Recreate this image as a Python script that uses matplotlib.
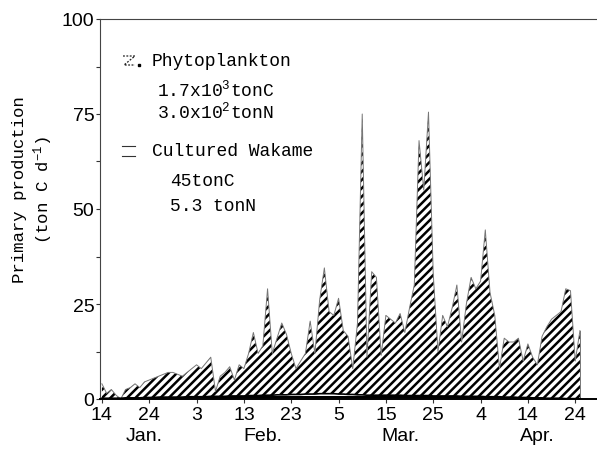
import numpy as np
import matplotlib
matplotlib.use("Agg")
import matplotlib.pyplot as plt
from matplotlib.lines import Line2D

# ── Data: daily primary production, Jan 14 (day 0) .. Apr 25 (day 101) ─────
phyto = [4, 1.5, 2.5, 1, 0, 2.5, 3, 4, 3, 4.5,
         5, 5.5, 6, 6.5, 7, 7, 6.5, 6, 7, 8,
         9, 8, 9.5, 11, 2, 6, 7, 8.5, 5, 9,
         8, 12, 17.5, 12, 14, 29, 12, 16, 20, 17,
         12, 8, 10, 12, 20.5, 12, 26, 34.5, 23, 22,
         26.5, 18, 16.5, 8, 20, 75, 11, 33.5, 32, 11.5,
         22, 21, 20, 22.5, 17.5, 24, 30, 68, 55, 75.5,
         33, 12.5, 22, 19, 24, 30, 15, 25, 32, 29,
         31, 44.5, 28, 22, 8, 16, 15, 15, 16, 10,
         14.5, 11, 9, 16.5, 19, 21, 22, 23, 29, 28.5,
         10, 18]
wakame = [0.2, 0.2, 0.2, 0.2, 0.2, 0.3, 0.3, 0.3, 0.3, 0.4,
          0.4, 0.4, 0.5, 0.5, 0.5, 0.5, 0.5, 0.5, 0.6, 0.6,
          0.6, 0.6, 0.6, 0.7, 0.7, 0.7, 0.7, 0.8, 0.8, 0.8,
          0.8, 0.9, 0.9, 0.9, 1.0, 1.0, 1.0, 1.1, 1.1, 1.1,
          1.2, 1.2, 1.2, 1.3, 1.3, 1.3, 1.4, 1.4, 1.4, 1.4,
          1.3, 1.3, 1.2, 1.2, 1.1, 1.1, 1.0, 1.0, 1.0, 1.0,
          1.0, 1.0, 1.0, 1.0, 0.9, 0.9, 0.9, 0.9, 0.9, 0.9,
          0.8, 0.8, 0.8, 0.8, 0.8, 0.8, 0.7, 0.7, 0.7, 0.7,
          0.7, 0.6, 0.6, 0.6, 0.6, 0.5, 0.5, 0.5, 0.4, 0.4,
          0.4, 0.3, 0.3, 0.3, 0.2, 0.2, 0.2, 0.2, 0.1, 0.1,
          0.1, 0.1]
days = np.arange(len(phyto))

tick_days   = [0, 10, 20, 30, 40, 50, 60, 70, 80, 90, 100]
tick_labels = ["14", "24", "3", "13", "23", "5", "15", "25", "4", "14", "24"]
month_pos   = [9, 34, 63, 92]
month_names = ["Jan.", "Feb.", "Mar.", "Apr."]

# ── Style ────────────────────────────────────────────────────────────────────
MONO = "Liberation Mono"
plt.rcParams["font.family"] = ["Liberation Sans", "DejaVu Sans"]
plt.rcParams["mathtext.fontset"] = "custom"
plt.rcParams["mathtext.rm"] = MONO
plt.rcParams["mathtext.default"] = "regular"
plt.rcParams["hatch.linewidth"] = 1.8

W, H = 597, 452
fig = plt.figure(figsize=(W / 100, H / 100), dpi=100)
fig.patch.set_facecolor("white")

def fx(px): return px / W
def fy(py): return 1 - py / H

ax = fig.add_axes([fx(100), fy(400), 1 - fx(100), fy(20) - fy(400)])
ax.set_xlim(-0.4, 104.6)
ax.set_ylim(0, 100)

ax.fill_between(days, phyto, 0, facecolor="white", edgecolor="black",
                hatch="////", linewidth=0)
ax.plot(days, phyto, color="#777777", linewidth=0.7)
ax.plot([days[-1], days[-1]], [0, phyto[-1]], color="#777777", linewidth=0.7)
ax.fill_between(days, wakame, 0, facecolor="white", edgecolor="black",
                hatch="---", linewidth=0)
ax.plot(days, wakame, color="black", linewidth=1.2)

# ── Axes ─────────────────────────────────────────────────────────────────────
ax.spines["right"].set_visible(False)
ax.spines["top"].set_color("#444444")
ax.spines["left"].set_color("#444444")
ax.spines["bottom"].set_linewidth(1.4)
ax.set_yticks([0, 25, 50, 75, 100])
ax.set_yticks([12.5, 37.5, 62.5, 87.5], minor=True)
ax.set_xticks(tick_days)
ax.set_xticklabels(tick_labels)
ax.tick_params(axis="both", which="both", length=3, width=0.8,
               labelsize=14, colors="#333333", labelcolor="black")
ax.tick_params(axis="y", pad=1)
ax.tick_params(axis="x", pad=2)

for pos, name in zip(month_pos, month_names):
    ax.text(pos, -0.097, name, transform=ax.get_xaxis_transform(),
            ha="center", va="center", fontsize=14)

fig.text(fx(20), fy(190), "Primary production", rotation=90, family=MONO,
         fontsize=12.5, ha="center", va="center")
fig.text(fx(43), fy(190), "(ton C d$^{-1}$)", rotation=90, family=MONO,
         fontsize=12.5, ha="center", va="center")

# ── Legend (manual) ──────────────────────────────────────────────────────────
# phytoplankton symbol: small dotted "Z"
fig.add_artist(Line2D([fx(123), fx(135), fx(124), fx(135)],
                      [fy(57), fy(57), fy(66), fy(66)],
                      color="#222222", linewidth=0.9, linestyle=(0, (1.5, 1.2))))
fig.add_artist(Line2D([fx(139)], [fy(65.5)], marker="s", markersize=1.6,
                      color="black", linestyle="none"))
# wakame symbol: two thin horizontal lines
for py in (147, 157):
    fig.add_artist(Line2D([fx(122), fx(135)], [fy(py), fy(py)],
                          color="#333333", linewidth=0.8))

legend_lines = [
    (152, 62, "Phytoplankton"),
    (157, 90, "1.7x10$^3$tonC"),
    (157, 112, "3.0x10$^2$tonN"),
    (152, 152, "Cultured Wakame"),
    (170, 182, "45tonC"),
    (170, 207, "5.3 tonN"),
]
for px, py, txt in legend_lines:
    fig.text(fx(px), fy(py), txt, family=MONO, fontsize=13, ha="left", va="center")

fig.savefig("out.png", dpi=100)
